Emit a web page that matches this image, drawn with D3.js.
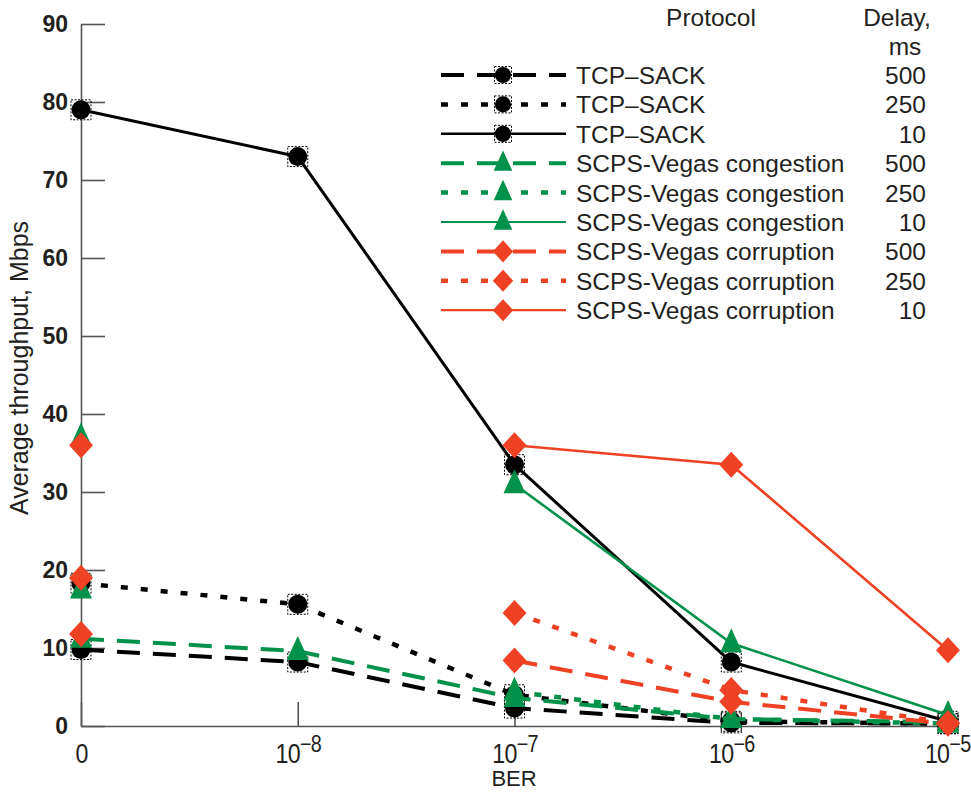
<!DOCTYPE html>
<html><head><meta charset="utf-8">
<script src="https://cdn.jsdelivr.net/npm/d3@7"></script>
<style>
body{margin:0;background:#fff;}
text{font-family:"Liberation Sans",Arial,Helvetica,sans-serif;fill:#231f20;}
</style></head>
<body><svg id="chart" width="971" height="792"></svg>
<script>
const categories = ["0", "1e-8", "1e-7", "1e-6", "1e-5"];
const tickExponents = [null, "−8", "−7", "−6", "−5"];
const yTicks = [0,10,20,30,40,50,60,70,80,90];

const tcp500  = [9.8, 8.2, 2.3, 0.4, 0.3];
const tcp250  = [18.3, 15.6, 4.0, 0.6, 0.3];
const tcp10   = [79, 73, 33.5, 8.2, 0.6];
const cong500 = [11.2, 9.6, 3.6, 0.9, 0.5];
const cong250 = [17.5, null, 4.4, 0.9, 0.3];
const cong10  = [37, null, 31, 10.6, 1.4];
const corr500 = [11.8, null, 8.4, 3.1, 0.3];
const corr250 = [19, null, 14.5, 4.6, 0.4];
const corr10  = [36, null, 36, 33.5, 9.7];

const protocols = ["TCP–SACK","TCP–SACK","TCP–SACK","SCPS-Vegas congestion","SCPS-Vegas congestion","SCPS-Vegas congestion","SCPS-Vegas corruption","SCPS-Vegas corruption","SCPS-Vegas corruption"];
const delays = ["500","250","10","500","250","10","500","250","10"];

const BLACK="#000000", GREEN="#00924a", RED="#ef4123";
const styles = {
  dashed:{dash:"23,13", w:4},
  dotted:{dash:"7,13", w:4.5},
  solid:{dash:null, w:2.6}
};
const series = [
  {vals:tcp500, color:BLACK, style:"dashed", marker:"circle"},
  {vals:tcp250, color:BLACK, style:"dotted", marker:"circle"},
  {vals:tcp10,  color:BLACK, style:"solid",  marker:"circle"},
  {vals:cong500,color:GREEN, style:"dashed", marker:"triangle"},
  {vals:cong250,color:GREEN, style:"dotted", marker:"triangle"},
  {vals:cong10, color:GREEN, style:"solid",  marker:"triangle"},
  {vals:corr500,color:RED,   style:"dashed", marker:"diamond"},
  {vals:corr250,color:RED,   style:"dotted", marker:"diamond"},
  {vals:corr10, color:RED,   style:"solid",  marker:"diamond"}
];

const svg = d3.select("#chart");
const x = d3.scalePoint().domain(categories).range([81, 948]);
const y = d3.scaleLinear().domain([0, 90]).range([726, 24]);
const AX="#555";

// y axis
const yAxis = svg.append("g").attr("transform","translate(81,0)")
  .call(d3.axisLeft(y).tickValues(yTicks).tickSizeInner(-24).tickSizeOuter(0).tickPadding(13));
yAxis.select(".domain").attr("stroke",AX).attr("stroke-width",1.6);
yAxis.selectAll(".tick line").attr("stroke",AX).attr("stroke-width",1.6);
yAxis.selectAll(".tick text").attr("font-size",23).attr("font-weight","bold").attr("fill","#231f20")
  .attr("x",-13).style("font-family","Liberation Sans, Arial, sans-serif");

// x axis
const xAxis = svg.append("g").attr("transform","translate(0,726)")
  .call(d3.axisBottom(x).tickSizeInner(-24).tickSizeOuter(0).tickFormat(""));
xAxis.select(".domain").attr("stroke",AX).attr("stroke-width",1.6);
xAxis.selectAll(".tick line").attr("stroke",AX).attr("stroke-width",1.6);
xAxis.selectAll(".tick").each(function(d,i){
  const last = i === categories.length-1;
  const t = d3.select(this).append("g").attr("transform", `translate(${last ? 22 : 0},37) scale(0.86,1)`)
    .append("text")
    .attr("text-anchor", last ? "end" : "middle")
    .attr("font-size",27).attr("fill","#231f20").style("letter-spacing","-0.8px");
  if(tickExponents[i]===null){ t.text("0"); }
  else {
    t.append("tspan").text("10");
    t.append("tspan").attr("dy",-11).attr("font-size",23).text(tickExponents[i]);
  }
});

svg.append("text").attr("x",514).attr("y",786).attr("text-anchor","middle").attr("font-size",22).text("BER");
svg.append("text").attr("transform","translate(28,368) rotate(-90)").attr("text-anchor","middle")
  .attr("font-size",25).text("Average throughput, Mbps");

// markers
function drawMarker(g, cx, cy, type, color, small){
  const k = small ? 0.85 : 1;
  if(type==="circle"){
    g.append("rect").attr("x",cx-10*k).attr("y",cy-10*k).attr("width",20*k).attr("height",20*k)
      .attr("fill","none").attr("stroke","#000").attr("stroke-width",1).attr("stroke-dasharray","2,1.5");
    g.append("circle").attr("cx",cx).attr("cy",cy).attr("r",9.5*k).attr("fill",color);
  } else if(type==="triangle"){
    g.append("path").attr("d",`M${cx},${cy-15*k}L${cx+11*k},${cy+9*k}L${cx-11*k},${cy+9*k}Z`).attr("fill",color);
  } else {
    g.append("path").attr("d",`M${cx},${cy-13*k}L${cx+12*k},${cy}L${cx},${cy+13*k}L${cx-12*k},${cy}Z`).attr("fill",color);
  }
}

const line = d3.line().defined(d=>d.v!==null).x(d=>x(d.c)).y(d=>y(d.v));
series.forEach(s=>{
  const pts = categories.map((c,i)=>({c, v:s.vals[i]}));
  const st = styles[s.style];
  const g = svg.append("g");
  g.append("path").datum(pts).attr("d",line).attr("fill","none").attr("stroke",s.color)
    .attr("stroke-width", s.color===BLACK && s.style==="solid" ? 3 : st.w)
    .attr("stroke-dasharray",st.dash);
  pts.filter(p=>p.v!==null).forEach(p=>drawMarker(g, x(p.c), y(p.v), s.marker, s.color, false));
});

// legend
const LF = 24.5;
const lg = svg.append("g");
lg.append("text").attr("x",711).attr("y",26).attr("text-anchor","middle").attr("font-size",LF).text("Protocol");
lg.append("text").attr("x",897).attr("y",26).attr("text-anchor","middle").attr("font-size",LF).text("Delay,");
lg.append("text").attr("x",905).attr("y",55).attr("text-anchor","middle").attr("font-size",LF).text("ms");
series.forEach((s,i)=>{
  const yy = 75 + i*29.4;
  const st = styles[s.style];
  lg.append("line").attr("x1",441).attr("x2",566).attr("y1",yy).attr("y2",yy).attr("stroke",s.color)
    .attr("stroke-width", s.style==="solid" ? (s.color===BLACK?2.4:2.2) : st.w)
    .attr("stroke-dasharray", st.dash);
  drawMarker(lg, 503, yy, s.marker, s.color, true);
  lg.append("text").attr("x",576).attr("y",yy+9).attr("font-size",LF).text(protocols[i]);
  lg.append("text").attr("x",926).attr("y",yy+9).attr("text-anchor","end").attr("font-size",LF).text(delays[i]);
});
</script></body></html>
